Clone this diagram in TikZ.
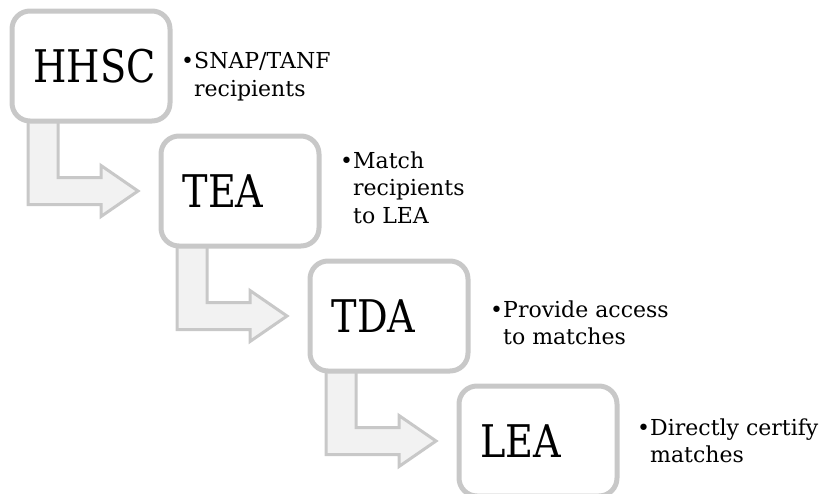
\documentclass[tikz,border=0pt]{standalone}
\usepackage{fontspec}
\setmainfont{DejaVu Serif}
\newfontfamily\labelfont{DejaVu Serif}[FakeStretch=0.85]
\newfontfamily\bulletfont{DejaVu Serif}
\usetikzlibrary{calc}
\definecolor{boxline}{RGB}{200,200,200}
\definecolor{arrowfill}{RGB}{242,242,242}
\tikzset{
  stagebox/.style={draw=boxline, line width=5pt, fill=white, rounded corners=18pt,
    minimum width=158pt, minimum height=110pt, text width=115pt, align=left,
    inner xsep=21.5pt, inner ysep=0pt,
    font=\labelfont\fontsize{45}{50}\selectfont},
  bentarrow/.style={draw=boxline, line width=3pt, fill=arrowfill, line join=miter},
  bullettext/.style={anchor=base west, inner sep=0pt,
    font=\bulletfont\fontsize{22}{27.5}\selectfont}
}
\newcommand{\bentconnector}[2]{%
  \draw[bentarrow] let \p1=(#1.south west), \p2=(#2.west) in
    (\x1+18.5pt,\y1+6pt) -- (\x1+18.5pt,\y2-13.5pt) -- (\x2-57.5pt,\y2-13.5pt)
    -- (\x2-57.5pt,\y2-25.5pt) -- (\x2-20.5pt,\y2) -- (\x2-57.5pt,\y2+25.5pt)
    -- (\x2-57.5pt,\y2+13.5pt) -- (\x1+48.5pt,\y2+13.5pt) -- (\x1+48.5pt,\y1+6pt) -- cycle;}
\begin{document}
\begin{tikzpicture}[x=1pt,y=-1pt]
\useasboundingbox (0,0) rectangle (821,493);
\clip (0,0) rectangle (821,493);
% boxes (positions only, drawn after the arrows)
\path (91,66) node[stagebox, draw=none, fill=none, text opacity=0] (hhsc) {HHSC};
\path (240,191) node[stagebox, draw=none, fill=none, text opacity=0] (tea) {TEA};
\path (389,316) node[stagebox, draw=none, fill=none, text opacity=0] (tda) {TDA};
\path (538,441) node[stagebox, draw=none, fill=none, text opacity=0] (lea) {LEA};
% bent arrows
\bentconnector{hhsc}{tea}
\bentconnector{tea}{tda}
\bentconnector{tda}{lea}
% visible boxes
\node[stagebox] (hhscbox) at (hhsc) {HHSC};
\node[stagebox] (teabox) at (tea) {TEA};
\node[stagebox] (tdabox) at (tda) {TDA};
\node[stagebox] (leabox) at (lea) {LEA};
% bullet texts
\node[bullettext] (t1) at (194,68.5) {\vtop{\hbox{\llap{•}SNAP/TANF}\hbox{recipients}}};
\node[bullettext] (t2) at (353,168) {\vtop{\hbox{\llap{•}Match}\hbox{recipients}\hbox{to LEA}}};
\node[bullettext] (t3) at (503,317) {\vtop{\hbox{\llap{•}Provide access}\hbox{to matches}}};
\node[bullettext] (t4) at (650,435) {\vtop{\hbox{\llap{•}Directly certify}\hbox{matches}}};
\end{tikzpicture}
\end{document}
